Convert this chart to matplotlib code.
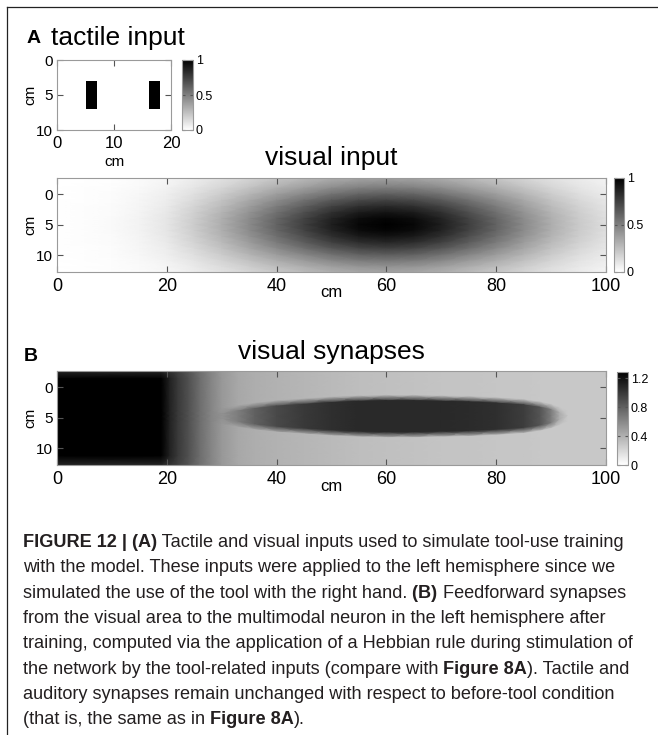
import numpy as np
import matplotlib
matplotlib.use("Agg")
import matplotlib.pyplot as plt
from matplotlib.lines import Line2D

plt.rcParams['font.family'] = ['Liberation Sans', 'DejaVu Sans']

# --- data ------------------------------------------------------------
# tactile input (cm grid, 10 rows x 20 columns), 1 inside the two bars
tactile_shape = (10, 20)
tactile_bar_cols = [(5, 7), (16, 18)]
tactile_bar_rows = (3, 7)

# visual input: level along the centre row (y = 5) and relative level
# along the centre column (x = 60)
vis_x = [0, 5, 10, 15, 20, 25, 30, 35, 40, 45, 50, 55, 60, 65, 70, 75, 80, 85, 90, 95, 100]
vis_x_level = [0.0, 0.01, 0.02, 0.05, 0.1, 0.2, 0.32, 0.46, 0.61, 0.75, 0.88, 0.97, 1.0,
               0.97, 0.88, 0.75, 0.61, 0.46, 0.32, 0.21, 0.13]
vis_y = [-2.7, -1, 0, 1, 2, 3, 4, 5, 6, 7, 8, 9, 10, 11, 12, 12.8]
vis_y_level = [0.36, 0.52, 0.63, 0.74, 0.84, 0.92, 0.98, 1.0, 0.98, 0.92, 0.84, 0.74, 0.63,
               0.52, 0.42, 0.36]

# visual synapses: background level, edge-row level, level inside the
# dark band and half height of the band, per column
syn_x = [0, 19, 20.5, 22, 24, 26, 28, 30, 33, 36, 40, 45, 50, 55, 60, 65, 70, 75, 80, 85,
         88, 90, 91.5, 93, 100]
syn_base = [1.29, 1.29, 1.12, 1.0, 0.88, 0.74, 0.62, 0.52, 0.44, 0.41, 0.39, 0.37, 0.35,
            0.33, 0.32, 0.31, 0.30, 0.30, 0.29, 0.29, 0.28, 0.28, 0.28, 0.28, 0.28]
syn_edge = [1.1, 1.1, 1.03, 0.96, 0.86, 0.73, 0.62, 0.52, 0.44, 0.41, 0.39, 0.37, 0.35,
            0.33, 0.32, 0.31, 0.30, 0.30, 0.29, 0.29, 0.28, 0.28, 0.28, 0.28, 0.28]
syn_band = [1.29, 1.29, 1.12, 1.0, 0.88, 0.74, 0.62, 0.55, 0.66, 0.8, 0.92, 1.0, 1.05,
            1.08, 1.08, 1.08, 1.08, 1.07, 1.05, 0.98, 0.86, 0.66, 0.42, 0.28, 0.28]
syn_half = [0, 0, 0, 0, 0, 0, 0, 0.4, 0.9, 1.3, 1.7, 2.0, 2.3, 2.5, 2.6, 2.6, 2.5, 2.4,
            2.2, 1.9, 1.5, 1.1, 0.6, 0, 0]
syn_centre = 4.8

W, H = 658, 735
fig = plt.figure(figsize=(W / 100, H / 100), dpi=100)


def box(x0, y0, x1, y1):
    return [x0 / W, 1 - y1 / H, (x1 - x0) / W, (y1 - y0) / H]


def style(ax, ysize=11, xsize=13):
    for s in ax.spines.values():
        s.set_color('#9a9a9a')
        s.set_linewidth(0.8)
    ax.tick_params(direction='in', top=True, right=True, length=4, width=0.8,
                   color='#555555', pad=3)
    ax.tick_params(axis='x', labelsize=xsize, pad=4)
    ax.tick_params(axis='y', labelsize=ysize)


def labels(ax, xy, yx, xsize=12):
    ax.set_xlabel('cm', fontsize=xsize)
    ax.xaxis.set_label_coords(0.5, xy)
    ax.xaxis.label.set_va('center')
    ax.set_ylabel('cm', fontsize=11)
    ax.yaxis.set_label_coords(yx, 0.5)
    ax.yaxis.label.set_va('center')


def style_cbar(cb, ticks, ticklabels):
    cb.set_ticks(ticks)
    cb.set_ticklabels(ticklabels)
    cb.outline.set_edgecolor('#9a9a9a')
    cb.outline.set_linewidth(0.8)
    cb.ax.tick_params(direction='in', length=2, width=0.8, labelsize=9, pad=2,
                      color='#555555', left=True, right=True)


# --- A: tactile input ------------------------------------------------
tactile = np.zeros(tactile_shape)
for c0, c1 in tactile_bar_cols:
    tactile[tactile_bar_rows[0]:tactile_bar_rows[1], c0:c1] = 1

ax_t = fig.add_axes(box(57, 60, 171.5, 130))
im_t = ax_t.imshow(tactile, cmap='gray_r', vmin=0, vmax=1, aspect='auto',
                   interpolation='nearest', extent=[0, 20, 10, 0])
ax_t.set_xticks([0, 10, 20])
ax_t.set_yticks([0, 5, 10])
style(ax_t, xsize=12)
ax_t.set_title('tactile input', fontsize=19, pad=10.5, x=0.53)
labels(ax_t, -0.46, -27 / 114.5, xsize=11)
cax_t = fig.add_axes(box(182, 60, 193, 130))
style_cbar(fig.colorbar(im_t, cax=cax_t), [0, 0.5, 1], ['0', '0.5', '1'])
fig.text(27 / W, 1 - 43 / H, 'A', fontsize=14, fontweight='bold', va='baseline')

# --- A: visual input -------------------------------------------------
vis = np.outer(vis_y_level, vis_x_level)
ax_v = fig.add_axes(box(57, 178, 606, 272))
im_v = ax_v.pcolormesh(vis_x, vis_y, vis, shading='gouraud', cmap='gray_r', vmin=0, vmax=1)
ax_v.set_xlim(0, 100)
ax_v.set_ylim(12.8, -2.7)
ax_v.set_xticks([0, 20, 40, 60, 80, 100])
ax_v.set_yticks([0, 5, 10])
style(ax_v)
ax_v.set_title('visual input', fontsize=19, pad=9)
labels(ax_v, -0.213, -27 / 549)
cax_v = fig.add_axes(box(614, 178, 624, 272))
style_cbar(fig.colorbar(im_v, cax=cax_v), [0, 0.5, 1], ['0', '0.5', '1'])

# --- B: visual synapses ----------------------------------------------
sx = np.array(syn_x, dtype=float)
half = np.array(syn_half, dtype=float)
soft = 0.9
ones = np.ones_like(sx)
syn_Y = np.vstack([-2.7 * ones, -1.4 * ones, syn_centre - half - soft, syn_centre - half,
                   syn_centre * ones, syn_centre + half, syn_centre + half + soft,
                   11.3 * ones, 12.8 * ones])
syn_X = np.tile(sx, (syn_Y.shape[0], 1))
syn_Z = np.vstack([syn_edge, syn_base, syn_base, syn_band, syn_band, syn_band,
                   syn_base, syn_base, syn_edge])

ax_s = fig.add_axes(box(57, 371, 606, 465))
im_s = ax_s.pcolormesh(syn_X, syn_Y, syn_Z, shading='gouraud', cmap='gray_r',
                       vmin=0, vmax=1.29)
ax_s.set_xlim(0, 100)
ax_s.set_ylim(12.8, -2.7)
ax_s.set_xticks([0, 20, 40, 60, 80, 100])
ax_s.set_yticks([0, 5, 10])
style(ax_s)
ax_s.set_title('visual synapses', fontsize=19, pad=8.5)
labels(ax_s, -0.234, -27 / 549)
cax_s = fig.add_axes(box(617, 372, 628, 465))
style_cbar(fig.colorbar(im_s, cax=cax_s), [0, 0.4, 0.8, 1.2], ['0', '0.4', '0.8', '1.2'])
fig.text(24 / W, 1 - 361 / H, 'B', fontsize=14, fontweight='bold', va='baseline')

# --- frame lines -----------------------------------------------------
fig.add_artist(Line2D([7 / W, 1], [1 - 7 / H, 1 - 7 / H], transform=fig.transFigure,
                      color='#222222', lw=0.9))
fig.add_artist(Line2D([7 / W, 7 / W], [0, 1 - 7 / H], transform=fig.transFigure,
                      color='#222222', lw=0.9))

# --- caption ---------------------------------------------------------
caption = [
    [('FIGURE 12 | (A)', 'bold'), (' Tactile and visual inputs used to simulate tool-use training', 'normal')],
    [('with the model. These inputs were applied to the left hemisphere since we', 'normal')],
    [('simulated the use of the tool with the right hand.', 'normal'), (' (B)', 'bold'),
     (' Feedforward synapses', 'normal')],
    [('from the visual area to the multimodal neuron in the left hemisphere after', 'normal')],
    [('training, computed via the application of a Hebbian rule during stimulation of', 'normal')],
    [('the network by the tool-related inputs (compare with', 'normal'), (' Figure 8A', 'bold'),
     ('). Tactile and', 'normal')],
    [('auditory synapses remain unchanged with respect to before-tool condition', 'normal')],
    [('(that is, the same as in', 'normal'), (' Figure 8A', 'bold'), (').', 'normal')],
]
renderer = fig.canvas.get_renderer()
for i, pieces in enumerate(caption):
    x = 23 / W
    y = 1 - (547 + i * 25.3) / H
    for txt, weight in pieces:
        t = fig.text(x, y, txt, fontsize=13.1, fontweight=weight, va='baseline', ha='left',
                     color='#231f20')
        x = t.get_window_extent(renderer).x1 / W

fig.savefig('out.png', dpi=100)
